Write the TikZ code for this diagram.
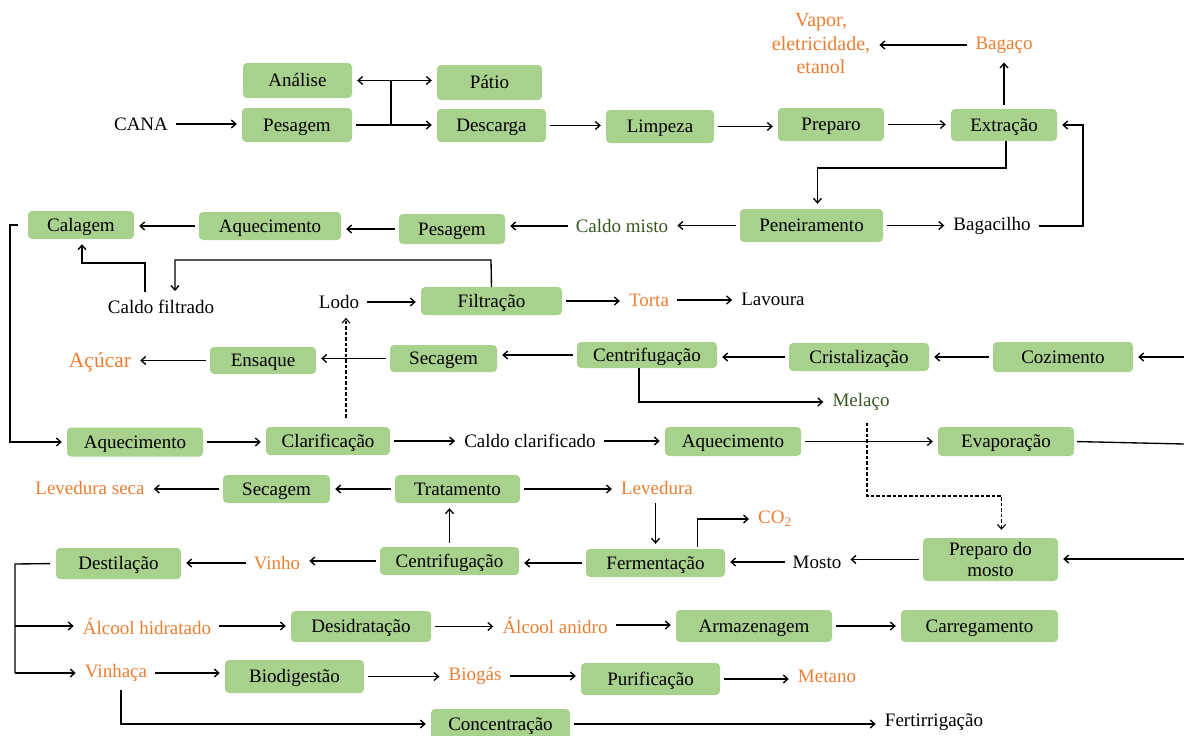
\documentclass[tikz,border=0pt]{standalone}
\usepackage{fontspec}
\setmainfont{Liberation Serif}
\usetikzlibrary{arrows.meta,calc}
\definecolor{boxg}{HTML}{A9D18E}
\definecolor{orng}{HTML}{ED7D31}
\definecolor{dkg}{HTML}{385723}
\newcommand\myfs{\fontsize{19}{20.5}\selectfont}
\begin{document}
\begin{tikzpicture}[x=1pt,y=-1pt,
  box/.style={fill=boxg, rounded corners=4pt, inner sep=0pt, font=\myfs, text=black, align=center, text height=15pt, text depth=3pt},
  box2/.style={fill=boxg, rounded corners=4pt, inner sep=0pt, font=\myfs, text=black, align=center},
  wh/.style 2 args={minimum width=#1pt, minimum height=#2pt},
  txt/.style={inner sep=4pt, font=\myfs, align=center},
  og/.style={text=orng},
  dg/.style={text=dkg},
  ln/.style={line width=1.35pt},
  arr/.style={ln, -{Straight Barb[length=4.5pt,width=8pt]}, shorten >=5pt, shorten <=4pt},
  arr0/.style={ln, -{Straight Barb[length=4.5pt,width=8pt]}, shorten >=5pt},
  darr/.style={ln, {Straight Barb[length=4.5pt,width=8pt]}-{Straight Barb[length=4.5pt,width=8pt]}, shorten >=5pt, shorten <=5pt},
  dsh/.style={line width=1.1pt, dash pattern=on 3.5pt off 2pt}
]
\useasboundingbox (0,0) rectangle (1184,736);

% ---------- boxes ----------
\node[box,wh={109}{35}] (ana) at (297.5,80.5) {Análise};
\node[box,wh={110}{34}] (pes1) at (297,125) {Pesagem};
\node[box,wh={105}{35}] (pat) at (489.5,82.5) {Pátio};
\node[box,wh={109}{33}] (des) at (491.5,125.5) {Descarga};
\node[box,wh={108}{33}] (lim) at (660,126.5) {Limpeza};
\node[box,wh={106}{33}] (pre) at (831,124.5) {Preparo};
\node[box,wh={106}{32}] (ext) at (1004,125) {Extração};
\node[box,wh={143}{33}] (pen) at (811.5,225.5) {Peneiramento};
\node[box,wh={106}{28}] (cal) at (81,225) {Calagem};
\node[box,wh={142}{28}] (aq1) at (270,226) {Aquecimento};
\node[box,wh={106}{30}] (pes2) at (452,229) {Pesagem};
\node[box,wh={141}{28}] (fil) at (491.5,301) {Filtração};
\node[box,wh={106}{27}] (ens) at (263,360.5) {Ensaque};
\node[box,wh={107}{27}] (sec1) at (443.5,358.5) {Secagem};
\node[box,wh={140}{26}] (cen1) at (647,355) {Centrifugação};
\node[box,wh={140}{28}] (cri) at (859,357) {Cristalização};
\node[box,wh={140}{30}] (coz) at (1063,357) {Cozimento};
\node[box,wh={136}{29}] (aq2) at (135,442) {Aquecimento};
\node[box,wh={124}{28}] (cla) at (328,441) {Clarificação};
\node[box,wh={136}{29}] (aq3) at (733,441.5) {Aquecimento};
\node[box,wh={136}{29}] (eva) at (1006,441.5) {Evaporação};
\node[box,wh={107}{28}] (sec2) at (276.5,489) {Secagem};
\node[box,wh={125}{28}] (tra) at (457.5,489) {Tratamento};
\node[box,wh={139}{28}] (cen2) at (449.5,561) {Centrifugação};
\node[box,wh={139}{28}] (fer) at (655.5,563) {Fermentação};
\node[box2,wh={135}{43}] (pmo) at (990.5,559.5) {Preparo do\\mosto};
\node[box,wh={125}{31}] (dst) at (118.5,563.5) {Destilação};
\node[box,wh={140}{31}] (dsd) at (361,626.5) {Desidratação};
\node[box,wh={156}{32}] (arm) at (754,626) {Armazenagem};
\node[box,wh={157}{32}] (car) at (979.5,626) {Carregamento};
\node[box,wh={139}{33}] (bio) at (294.5,676.5) {Biodigestão};
\node[box,wh={139}{32}] (pur) at (650.5,679) {Purificação};
\node[box,wh={139}{30}] (con) at (500.5,724) {Concentração};

% ---------- text nodes ----------
\node[txt] (cana) at (141,124) {CANA};
\node[txt,og,font=\fontsize{20}{23.5}\selectfont] (vap) at (821,44) {Vapor,\\eletricidade,\\etanol};
\node[txt,og] (bag) at (1004,45) {Bagaço};
\node[txt] (bgc) at (992,226) {Bagacilho};
\node[txt,dg] (cmi) at (622,226) {Caldo misto};
\node[txt] (cfi) at (161,307) {Caldo filtrado};
\node[txt] (lod) at (339,302) {Lodo};
\node[txt,og] (tor) at (649,300) {Torta};
\node[txt] (lav) at (773,299) {Lavoura};
\node[txt,og,font=\fontsize{21.5}{24}\selectfont] (acu) at (100,362) {Açúcar};
\node[txt,dg] (mel) at (861,402) {Melaço};
\node[txt] (ccl) at (530,441) {Caldo clarificado};
\node[txt,og] (lsc) at (90,488) {Levedura seca};
\node[txt,og] (lev) at (657,488) {Levedura};
\node[txt,og] (co2) at (775,519) {CO\textsubscript{2}};
\node[txt] (mos) at (817,562) {Mosto};
\node[txt,og] (vin) at (277,563) {Vinho};
\node[txt,og] (ahi) at (147,626) {Álcool hidratado};
\node[txt,og] (aan) at (555,625) {Álcool anidro};
\node[txt,og] (vha) at (116,673) {Vinhaça};
\node[txt,og] (bgs) at (475,676) {Biogás};
\node[txt,og] (met) at (827,676) {Metano};
\node[txt] (fert) at (934,722) {Fertirrigação};

% ---------- helper coordinates ----------
\coordinate (j1) at (391,124);
\coordinate (k1) at (1006,168);
\coordinate (k2) at (1083,226);
\coordinate (k3) at (10,225);
\coordinate (k4) at (82,263);
\coordinate (k5) at (491,260);
\coordinate (k6) at (867,496);
\coordinate (k7) at (15,564);
\coordinate (e1) at (1184,357);
\coordinate (e2) at (1184,444);
\coordinate (e3) at (1184,559);

% ---------- connectors ----------
\draw[arr] (cana.east) -- (cana.east -| pes1.west);
\draw[arr] (pes1.east) -- (pes1.east -| des.west);
\draw[ln] (j1) -- (j1 |- ana.east);
\draw[darr] (ana.east) -- (ana.east -| pat.west);
\draw[arr] (des.east) -- (des.east -| lim.west);
\draw[arr] (lim.east) -- (lim.east -| pre.west);
\draw[arr] (pre.east) -- (pre.east -| ext.west);
\draw[arr] (ext.north) -- (ext.north |- bag.south);
\draw[arr] (bag.west) -- (bag.west -| vap.east);
\draw[arr0] (ext.south -| k1) -- (k1) -| ([xshift=6pt]pen.north);
\draw[arr] (pen.east) -- (pen.east -| bgc.west);
\draw[arr] (bgc.east) -- (k2) |- (ext.east);
\draw[arr] (pen.west) -- (pen.west -| cmi.east);
\draw[arr] (cmi.west) -- (cmi.west -| pes2.east);
\draw[arr] (pes2.west) -- (pes2.west -| aq1.east);
\draw[arr] (aq1.west) -- (aq1.west -| cal.east);
\draw[arr, shorten <=10pt] (cal.west) -- (k3) |- (aq2.west);
\draw[arr] ([xshift=-16pt]cfi.north) |- (k4) -- (k4 |- cal.south);
\draw[arr0] (fil.north) -- (k5) -| ([xshift=14pt]cfi.north);
\draw[arr] (lod.east) -- (lod.east -| fil.west);
\draw[arr] (fil.east) -- (fil.east -| tor.west);
\draw[arr] (tor.east) -- (tor.east -| lav.west);
\draw[arr, dsh, shorten <=9pt] ([xshift=18pt]cla.north) -- ([xshift=7pt]lod.south);
\draw[arr] (cen1.west) -- (cen1.west -| sec1.east);
\draw[arr] (sec1.west) -- (sec1.west -| ens.east);
\draw[arr] (ens.west) -- (ens.west -| acu.east);
\draw[arr] (cri.west) -- (cri.west -| cen1.east);
\draw[arr] (coz.west) -- (coz.west -| cri.east);
\draw[arr0] (e1) -- (e1 -| coz.east);
\draw[arr, shorten <=0pt] ([xshift=-8pt]cen1.south) |- (mel.west);
\draw[arr] (aq2.east) -- (aq2.east -| cla.west);
\draw[arr] (cla.east) -- (cla.east -| ccl.west);
\draw[arr] (ccl.east) -- (ccl.east -| aq3.west);
\draw[arr] (aq3.east) -- (aq3.east -| eva.west);
\draw[ln, shorten <=3pt] (eva.east) -- (e2);
\draw[arr, dsh, shorten <=8pt, shorten >=8pt] ([xshift=6pt]mel.south) -- (k6) -| ([xshift=11pt]pmo.north);
\draw[arr0] (e3) -- (e3 -| pmo.east);
\draw[arr] (pmo.west) -- (pmo.west -| mos.east);
\draw[arr] (mos.west) -- (mos.west -| fer.east);
\draw[arr] (fer.west) -- (fer.west -| cen2.east);
\draw[arr] (cen2.west) -- (cen2.west -| vin.east);
\draw[arr] (vin.west) -- (vin.west -| dst.east);
\draw[arr] (cen2.north) -- (cen2.north |- tra.south);
\draw[arr] (tra.west) -- (tra.west -| sec2.east);
\draw[arr] (sec2.west) -- (sec2.west -| lsc.east);
\draw[arr] (tra.east) -- (tra.east -| lev.west);
\draw[arr] (fer.north |- lev.south) -- (fer.north);
\draw[arr, shorten <=2pt] ([xshift=42pt]fer.north) |- (co2.west);
\draw[ln, shorten <=6pt] (dst.west) -- (k7) -- (k7 |- vha.west);
\draw[arr0] (k7 |- ahi.west) -- (ahi.west);
\draw[arr0] (k7 |- vha.west) -- (vha.west);
\draw[arr] (ahi.east) -- (ahi.east -| dsd.west);
\draw[arr] (dsd.east) -- (dsd.east -| aan.west);
\draw[arr] (aan.east) -- (aan.east -| arm.west);
\draw[arr] (arm.east) -- (arm.east -| car.west);
\draw[arr] (vha.east) -- (vha.east -| bio.west);
\draw[arr] (bio.east) -- (bio.east -| bgs.west);
\draw[arr] (bgs.east) -- (bgs.east -| pur.west);
\draw[arr] (pur.east) -- (pur.east -| met.west);
\draw[arr] ([xshift=5pt]vha.south) |- (con.west);
\draw[arr] (con.east) -- (con.east -| fert.west);
\end{tikzpicture}
\end{document}
